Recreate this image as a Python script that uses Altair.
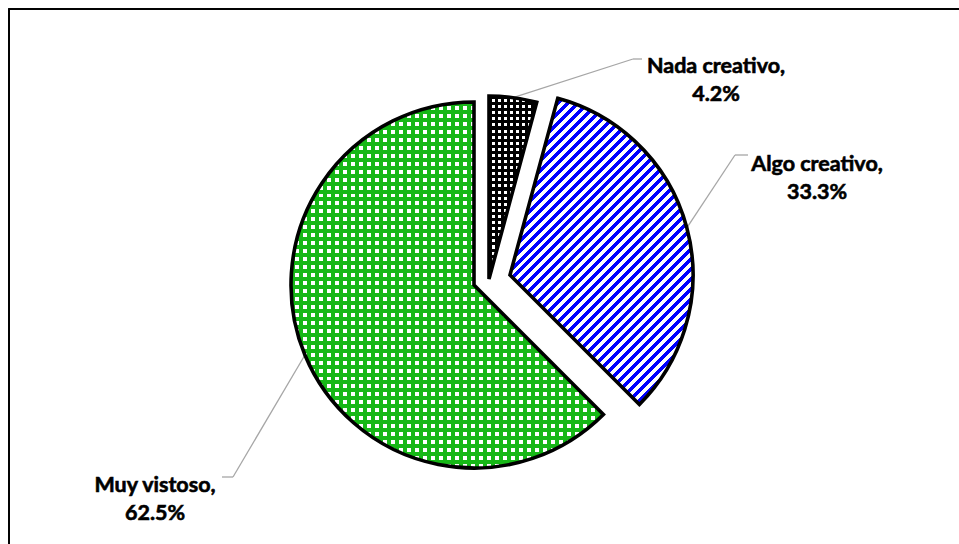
import math
import altair as alt
import pandas as pd

# ---------------- data ----------------
categories = ["Nada creativo", "Algo creativo", "Muy vistoso"]
values = [4.2, 33.3, 62.5]

# ---------------- layout / style (pixels) ----------------
CX, CY, R = 474, 285, 183
EXPLODE = {"Nada creativo": (15, -6), "Algo creativo": (36, -10), "Muy vistoso": (0, 0)}
LABEL_POS = {"Nada creativo": (716, 67), "Algo creativo": (817, 165), "Muy vistoso": (155, 486)}
ELBOW = {"Nada creativo": (633, 59, 642), "Algo creativo": (735, 155, 748), "Muy vistoso": (233, 477, 222)}
GREEN = "#17b817"
BLUE = "#0000ff"
CLEAR = "rgba(255,255,255,0)"

df = pd.DataFrame({
    "category": categories,
    "value": values,
    "order": list(range(len(categories))),
    "ox": [EXPLODE[c][0] for c in categories],
    "oy": [EXPLODE[c][1] for c in categories],
    "lx": [LABEL_POS[c][0] for c in categories],
    "ly": [LABEL_POS[c][1] for c in categories],
    "ex": [ELBOW[c][0] for c in categories],
    "ey": [ELBOW[c][1] for c in categories],
    "endx": [ELBOW[c][2] for c in categories],
})

# slice angles (only used to size the fill patterns to each slice's bounding box)
total = sum(values)
angles = {}
acc = 0.0
for c, v in zip(categories, values):
    a0 = 2 * math.pi * acc / total
    acc += v
    angles[c] = (a0, 2 * math.pi * acc / total)


def bbox(cat):
    t0, t1 = angles[cat]
    pts = [(0.0, 0.0)]
    for i in range(401):
        t = t0 + (t1 - t0) * i / 400
        pts.append((R * math.sin(t), -R * math.cos(t)))
    xs = [p[0] for p in pts]
    ys = [p[1] for p in pts]
    return max(xs) - min(xs), max(ys) - min(ys)


def stripes(col_a, col_b, frac_a, n, x1, y1, x2, y2):
    stops = []
    for i in range(n):
        s = i / n
        m = (i + frac_a) / n
        e = (i + 1) / n
        stops += [alt.GradientStop(offset=s, color=col_a),
                  alt.GradientStop(offset=m, color=col_a),
                  alt.GradientStop(offset=m, color=col_b),
                  alt.GradientStop(offset=e, color=col_b)]
    return alt.LinearGradient(gradient="linear", stops=stops, x1=x1, y1=y1, x2=x2, y2=y2)


def horiz(cat, col_a, col_b, frac_a, period):
    W, H = bbox(cat)
    return stripes(col_a, col_b, frac_a, max(1, round(H / period)), 0, 0, 0, 1)


def vert(cat, col_a, col_b, frac_a, period):
    W, H = bbox(cat)
    return stripes(col_a, col_b, frac_a, max(1, round(W / period)), 0, 0, 1, 0)


def diag(cat, col_a, col_b, frac_a, period):
    W, H = bbox(cat)
    a = (W + H) / (W * W + H * H)
    span = (W + H) / math.sqrt(2)
    return stripes(col_a, col_b, frac_a, max(1, round(span / period)), 0, 0, a * W, a * H)


def arc_layer(cat, fill, stroke=False):
    kw = dict(radius=R, fill=fill)
    if stroke:
        kw.update(stroke="black", strokeWidth=3.6, strokeJoin="miter")
    return alt.Chart().transform_filter(alt.datum.category == cat).mark_arc(**kw).encode(
        theta=alt.Theta("t0:Q", scale=None),
        theta2=alt.Theta2("t1:Q"),
        x=alt.X("px:Q", scale=None, axis=None),
        y=alt.Y("py:Q", scale=None, axis=None),
    )


layers = []

# chart border (extends past the bottom/right edges as in the reference)
layers.append(alt.Chart().mark_rect(filled=False, stroke="black", strokeWidth=1.5).encode(
    x=alt.value(9), x2=alt.value(1000), y=alt.value(9), y2=alt.value(700)))

# leader lines
layers.append(alt.Chart().mark_rule(color="#a6a6a6", strokeWidth=1.3).encode(
    x=alt.X("sx:Q", scale=None, axis=None), y=alt.Y("sy:Q", scale=None, axis=None),
    x2=alt.X2("ex:Q"), y2=alt.Y2("ey:Q")))
layers.append(alt.Chart().mark_rule(color="#a6a6a6", strokeWidth=1.3).encode(
    x=alt.X("ex:Q", scale=None, axis=None), y=alt.Y("ey:Q", scale=None, axis=None),
    x2=alt.X2("endx:Q"), y2=alt.Y2("ey:Q")))

# Muy vistoso: green with white cells
layers.append(arc_layer("Muy vistoso", horiz("Muy vistoso", GREEN, "white", 0.5, 8)))
layers.append(arc_layer("Muy vistoso", vert("Muy vistoso", GREEN, CLEAR, 0.5, 8), stroke=True))

# Nada creativo: black / white checker
layers.append(arc_layer("Nada creativo", horiz("Nada creativo", "black", "white", 0.5, 6)))
layers.append(arc_layer("Nada creativo", vert("Nada creativo", "black", CLEAR, 0.5, 6), stroke=True))

# Algo creativo: blue diagonal stripes
layers.append(arc_layer("Algo creativo", diag("Algo creativo", BLUE, "white", 0.5, 7), stroke=True))

# labels
layers.append(alt.Chart().mark_text(
    font="Lato", fontSize=21.5, fontWeight="bold", color="black",
    stroke="black", strokeWidth=0.6,
    lineBreak="\n", lineHeight=28, align="center", baseline="middle").encode(
    x=alt.X("lx:Q", scale=None, axis=None), y=alt.Y("ly:Q", scale=None, axis=None),
    text=alt.Text("label:N")))

chart = alt.layer(*layers, data=df).transform_joinaggregate(
    total="sum(value)"
).transform_window(
    cum="sum(value)", sort=[alt.SortField("order")]
).transform_calculate(
    t1="2*PI*datum.cum/datum.total",
    t0="2*PI*(datum.cum-datum.value)/datum.total",
).transform_calculate(
    mid="(datum.t0+datum.t1)/2",
    px=f"{CX}+datum.ox",
    py=f"{CY}+datum.oy",
    label="datum.category + ',\\n' + format(datum.value, '.1f') + '%'",
).transform_calculate(
    sx=f"datum.px + {R}*sin(datum.mid)",
    sy=f"datum.py - {R}*cos(datum.mid)",
).properties(
    width=959, height=544, autosize="none", padding=0, background="white"
).configure_view(strokeWidth=0)

chart.save("out.html", embed_options={"renderer": "svg", "actions": False})
